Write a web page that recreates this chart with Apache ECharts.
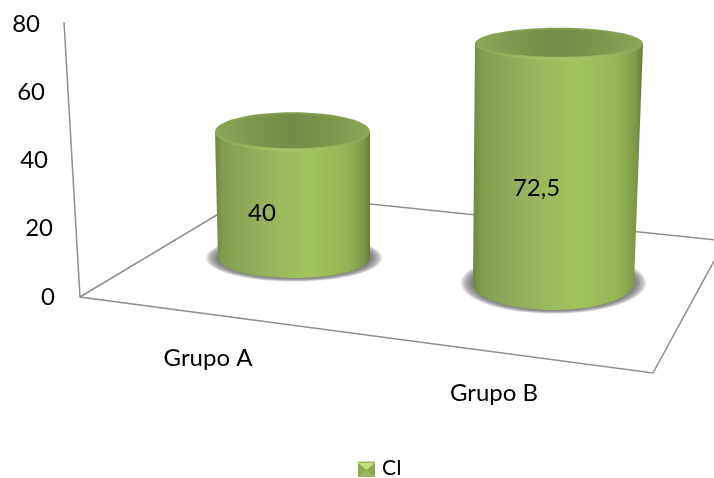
<!DOCTYPE html>
<html>
<head>
<meta charset="utf-8">
<style>html,body{margin:0;padding:0;background:#fff}#c{width:714px;height:478px}</style>
<script src="https://cdn.jsdelivr.net/npm/echarts@6/dist/echarts.min.js"></script>
</head>
<body>
<div id="c"></div>
<script>
const categories = ['Grupo A', 'Grupo B'];
const seriesName = 'CI';
const seriesValues = [40, 72.5];
const tickValues = [0, 20, 40, 60, 80];

// Where each tick label sits to the left of the slanted wall line.
const tickInset = { 0: 0, 20: 2, 40: 7, 60: 10, 80: 15 };
// Projection of each cylinder on the perspective floor, relative to its category.
const placement = [
  { dx: 86, dy: -39, depth: 0.924, rxTop: 77.5, ryTop: 19.5, rxBase: 76, ryBase: 20, skewTop: -1.5, labelX: -32, labelY: 18 },
  { dx: 59.5, dy: -14, depth: 0.967, rxTop: 84, ryTop: 16, rxBase: 80.5, ryBase: 27, skewTop: 5.5, labelX: -17, labelY: 25 }
];

const FONT = 'Lato';
const FONT_SIZE = 24;
const lineColor = '#8f8f8f';

const bodyFill = {
  type: 'linear', x: 0, y: 0, x2: 1, y2: 0,
  colorStops: [
    { offset: 0, color: '#6f883f' },
    { offset: 0.05, color: '#829c4c' },
    { offset: 0.3, color: '#96b15e' },
    { offset: 0.6, color: '#a2c45d' },
    { offset: 0.85, color: '#96b656' },
    { offset: 0.96, color: '#7c9747' },
    { offset: 1, color: '#647c36' }
  ]
};
const rimFill = {
  type: 'linear', x: 0, y: 0, x2: 0, y2: 1,
  colorStops: [
    { offset: 0, color: '#849e50' },
    { offset: 0.8, color: '#8fab55' },
    { offset: 1, color: '#a9c868' }
  ]
};
const capFill = {
  type: 'linear', x: 0, y: 0, x2: 1, y2: 0,
  colorStops: [
    { offset: 0, color: '#8aa556' },
    { offset: 0.25, color: '#7c964a' },
    { offset: 0.5, color: '#738c45' },
    { offset: 0.75, color: '#7c964a' },
    { offset: 1, color: '#8aa556' }
  ]
};

function renderCylinder(params, api) {
  const i = api.value(0);
  const p = placement[i];
  const value = api.value(1);
  const zero = api.coord([i, 0]);
  const top = api.coord([i, value]);
  const baseX = zero[0] + p.dx;
  const baseY = zero[1] + p.dy;
  const topX = baseX + p.skewTop;
  const topY = baseY - (zero[1] - top[1]) * p.depth;

  const outline = [[topX - p.rxTop, topY], [topX + p.rxTop, topY]];
  for (let k = 0; k <= 48; k++) {
    const a = Math.PI * k / 48;
    outline.push([baseX + p.rxBase * Math.cos(a), baseY + p.ryBase * Math.sin(a)]);
  }

  // Soft contact shadow: concentric translucent ellipses, darkest beside the cylinder.
  const shadow = [];
  for (let s = 0; s < 7; s++) {
    const spread = 12 - s * 2;
    shadow.push({
      type: 'ellipse',
      shape: { cx: baseX, cy: baseY, rx: p.rxBase + spread, ry: p.ryBase + spread * 0.3 },
      style: { fill: '#5a5a5a', opacity: 0.2 }
    });
  }

  return {
    type: 'group',
    children: shadow.concat([
      { type: 'polygon', shape: { points: outline }, style: { fill: bodyFill } },
      {
        type: 'ellipse',
        shape: { cx: topX, cy: topY, rx: p.rxTop, ry: p.ryTop },
        style: { fill: rimFill }
      },
      {
        type: 'ellipse',
        shape: { cx: topX, cy: topY - 0.5, rx: p.rxTop - 4, ry: p.ryTop - 2.5 },
        style: { fill: capFill }
      },
      {
        type: 'text',
        style: {
          text: String(value).replace('.', ','),
          x: baseX + p.labelX,
          y: (baseY + topY) / 2 + p.labelY,
          align: 'center',
          verticalAlign: 'middle',
          font: FONT_SIZE + 'px ' + FONT,
          fill: '#000'
        }
      }
    ])
  };
}

const tickRich = {};
tickValues.forEach(v => {
  tickRich['t' + v] = { fontFamily: FONT, fontSize: FONT_SIZE, color: '#000', padding: [0, tickInset[v], 0, 0] };
});

const chart = echarts.init(document.getElementById('c'));
chart.setOption({
  animation: false,
  backgroundColor: '#fff',
  grid: { left: 65, width: 572, top: 24, height: 273, containLabel: false },
  xAxis: {
    type: 'category',
    data: categories,
    axisLine: { show: false },
    axisTick: { show: false },
    axisLabel: {
      margin: 49,
      formatter: (name, idx) => '{c' + idx + '|' + name + '}',
      rich: {
        c0: { fontFamily: FONT, fontSize: FONT_SIZE, color: '#000' },
        c1: { fontFamily: FONT, fontSize: FONT_SIZE, color: '#000', padding: [35, 0, 0, 0] }
      }
    }
  },
  yAxis: {
    type: 'value',
    min: 0,
    max: 80,
    interval: 20,
    axisLine: { show: false },
    axisTick: { show: false },
    splitLine: { show: false },
    axisLabel: {
      margin: 10,
      formatter: v => '{t' + v + '|' + v + '}',
      rich: tickRich
    }
  },
  legend: {
    data: [seriesName],
    top: 458,
    left: 358,
    padding: 0,
    itemWidth: 17,
    itemHeight: 14,
    itemGap: 0,
    icon: 'rect',
    textStyle: { fontFamily: FONT, fontSize: 21, color: '#000', padding: [0, 0, 0, 2] }
  },
  // Wall and floor lines of the perspective box, plus the shading on the legend swatch.
  graphic: [
    { type: 'polyline', z: 0, shape: { points: [[64, 22], [80, 297], [653, 373], [725, 241], [255, 192], [80, 297]] }, style: { fill: null, stroke: lineColor, lineWidth: 1.5 } },
    { type: 'polygon', z: 10, shape: { points: [[358, 463], [375, 463], [375, 477], [358, 477]] }, style: { fill: '#8aa64f' } },
    { type: 'polygon', z: 10, shape: { points: [[358, 463], [375, 463], [366.5, 470]] }, style: { fill: '#c3dc80' } },
    { type: 'polygon', z: 10, shape: { points: [[358, 477], [375, 477], [366.5, 470]] }, style: { fill: '#9ab95a' } }
  ],
  series: [{
    name: seriesName,
    type: 'custom',
    z: 2,
    clip: false,
    itemStyle: { color: '#9bbb59' },
    encode: { x: 0, y: 1 },
    data: seriesValues.map((v, i) => [i, v]),
    renderItem: renderCylinder
  }]
});
</script>
</body>
</html>
